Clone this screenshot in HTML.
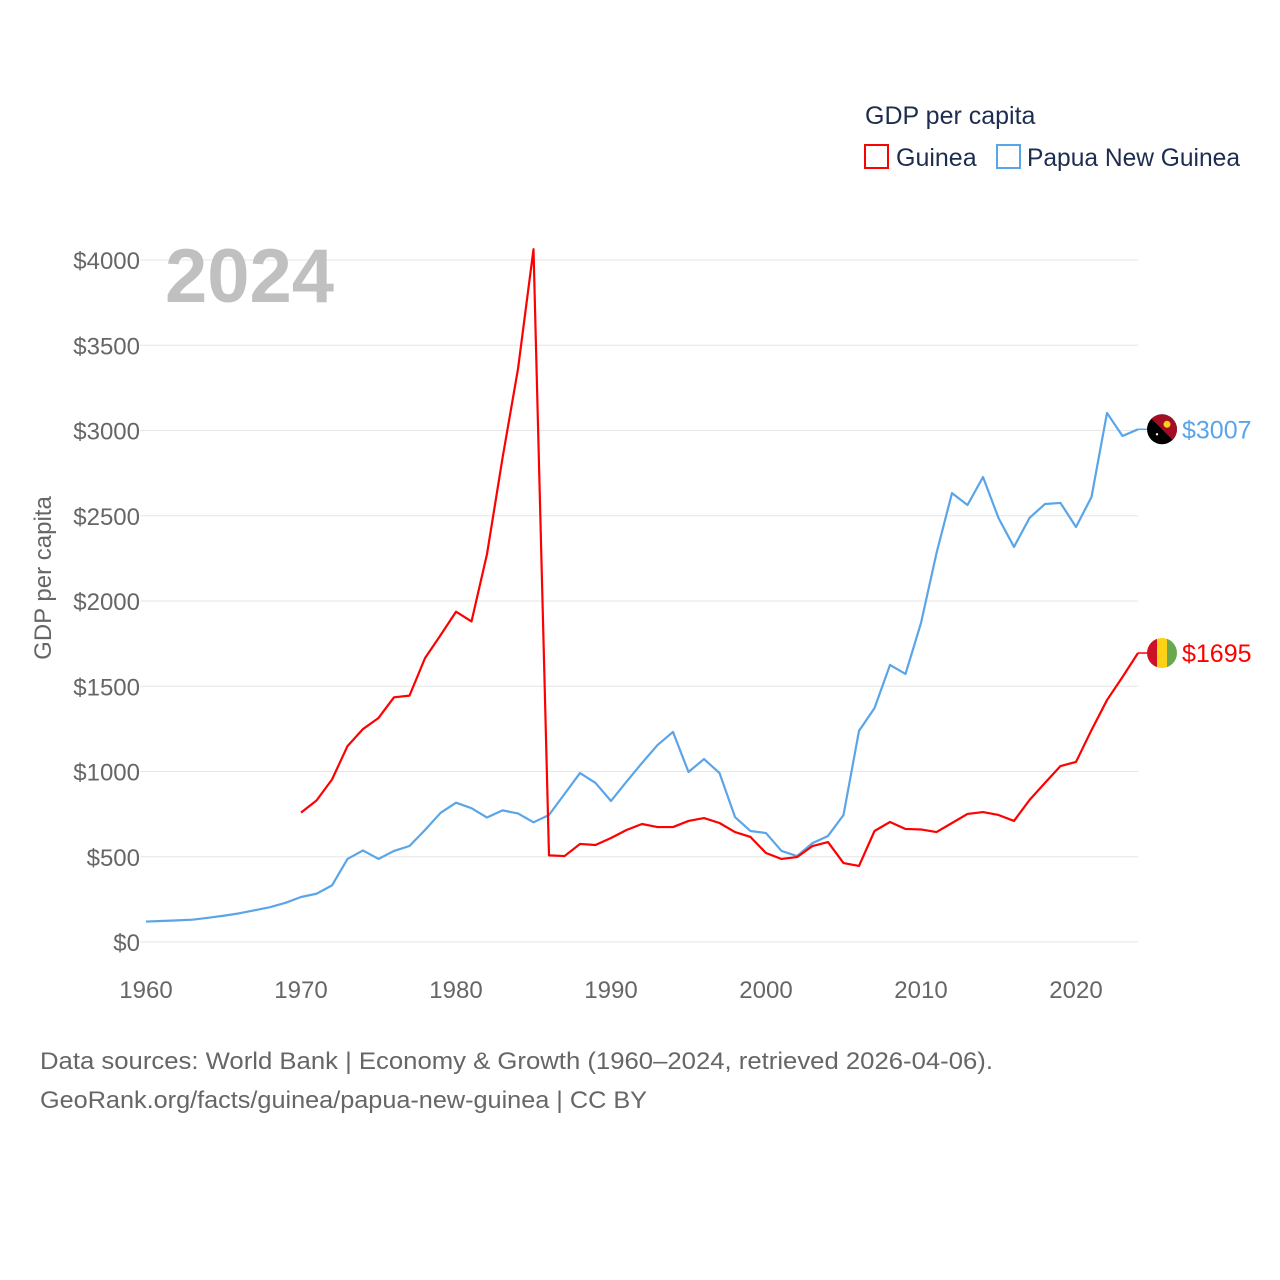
<!DOCTYPE html>
<html><head><meta charset="utf-8"><style>
html,body{margin:0;padding:0;background:#fff;}
svg{display:block;font-family:"Liberation Sans",sans-serif;}
</style></head><body>
<svg id="chart" width="1280" height="1280" viewBox="0 0 1280 1280">
<text x="865" y="124" font-size="25" fill="#1d2d50">GDP per capita</text>
<g>
<rect x="865" y="145" width="23" height="23" fill="none" stroke="#ff0000" stroke-width="2"/>
<text x="896" y="166" font-size="25" fill="#1d2d50">Guinea</text></g>
<g>
<rect x="997" y="145" width="23" height="23" fill="none" stroke="#5aa5e8" stroke-width="2"/>
<text x="1027" y="166" font-size="25" fill="#1d2d50" textLength="213" lengthAdjust="spacingAndGlyphs">Papua New Guinea</text></g>
<g id="grid"></g>
<g id="yticks"></g>
<g id="xticks"></g>
<text x="165" y="302" font-size="76" font-weight="bold" fill="#c0c0c0">2024</text>
<text transform="translate(51,578) rotate(-90)" text-anchor="middle" font-size="24" fill="#666">GDP per capita</text>
<g id="series"></g>
<text x="40" y="1069" font-size="24" fill="#666" textLength="953" lengthAdjust="spacingAndGlyphs">Data sources: World Bank | Economy &amp; Growth (1960–2024, retrieved 2026-04-06).</text>
<text x="40" y="1108" font-size="24" fill="#666" textLength="607" lengthAdjust="spacingAndGlyphs">GeoRank.org/facts/guinea/papua-new-guinea | CC BY</text>
</svg>
<script>
const years=[];for(let y=1960;y<=2024;y++)years.push(y);
const yTicks=[0,500,1000,1500,2000,2500,3000,3500,4000];
const xTicks=[1960,1970,1980,1990,2000,2010,2020];
const pngValues=[120,123,127,131,142,154,168,186,204,230,264,283,332,487,537,487,534,563,657,757,817,785,730,772,754,702,745,868,991,933,827,940,1050,1155,1232,997,1073,991,733,651,639,534,504,580,622,745,1238,1372,1625,1572,1871,2281,2633,2563,2727,2487,2317,2487,2569,2575,2434,2610,3103,2968,3007];
const guineaValues=[null,null,null,null,null,null,null,null,null,null,759,830,953,1149,1249,1314,1435,1445,1665,1799,1937,1880,2275,2838,3361,4063,508,504,575,569,610,657,692,674,674,710,727,698,645,616,522,487,498,563,586,463,446,651,704,663,660,645,698,751,762,745,710,833,933,1032,1056,1243,1419,1554,1695];
const NS='http://www.w3.org/2000/svg';
const X=y=>146+(y-1960)*15.5;
const Y=v=>942-v*0.1705;
function mk(t,a,p){const e=document.createElementNS(NS,t);for(const k in a)e.setAttribute(k,a[k]);p.appendChild(e);return e;}
const grid=document.getElementById('grid'),yt=document.getElementById('yticks'),xt=document.getElementById('xticks'),ser=document.getElementById('series');
yTicks.forEach(v=>{
 const l=mk('line',{x1:140,x2:1138,y1:Y(v),y2:Y(v),stroke:'#e6e6e6','stroke-width':1},grid);
 
 
 const t=mk('text',{x:140,y:Y(v)+9,'text-anchor':'end','font-size':24,fill:'#666'},yt);
 t.textContent='$'+v;
 
 
});
xTicks.forEach(y=>{
 const t=mk('text',{x:X(y),y:998,'text-anchor':'middle','font-size':24,fill:'#666'},xt);
 t.textContent=y;
 
 
});
function line(vals,color,name){
 let d='';let pen=false;
 vals.forEach((v,i)=>{if(v==null){pen=false;return;}d+=(pen?'L':'M')+X(years[i])+' '+Y(v)+' ';pen=true;});
 const p=mk('path',{d:d,fill:'none',stroke:color,'stroke-width':2.2,'stroke-linejoin':'round'},ser);
 
 
 const last=vals[vals.length-1],ly=Y(last),lx=X(2024);
 const c=mk('line',{x1:lx,x2:lx+12,y1:ly,y2:ly,stroke:color,'stroke-width':1.5},ser);
 
 
 const t=mk('text',{x:lx+44,y:ly+9,'font-size':25,fill:color},ser);
 t.textContent='$'+last;
 
 
 return ly;
}
const pngY=line(pngValues,'#5aa5e8','png-line');
const gY=line(guineaValues,'#ff0000','guinea-line');
const fx=1162;
const pg=mk('g',{},ser);


const cp1=mk('clipPath',{id:'c1'},pg);mk('circle',{cx:fx,cy:pngY,r:15},cp1);
mk('circle',{cx:fx,cy:pngY,r:15,fill:'#000'},pg);
mk('polygon',{points:`${fx-15},${pngY-15} ${fx+15},${pngY-15} ${fx+15},${pngY+15}`,fill:'#a50d24','clip-path':'url(#c1)'},pg);
mk('circle',{cx:fx+5,cy:pngY-5,r:3.5,fill:'#fcd116'},pg);
mk('circle',{cx:fx-5,cy:pngY+5,r:1.2,fill:'#fff'},pg);
const gg=mk('g',{},ser);


const cp=mk('clipPath',{id:'c2'},gg);mk('circle',{cx:fx,cy:gY,r:15},cp);
mk('rect',{x:fx-15,y:gY-15,width:10,height:30,fill:'#ce1126','clip-path':'url(#c2)'},gg);
mk('rect',{x:fx-5,y:gY-15,width:10,height:30,fill:'#fcd116','clip-path':'url(#c2)'},gg);
mk('rect',{x:fx+5,y:gY-15,width:10,height:30,fill:'#6aa84f','clip-path':'url(#c2)'},gg);
</script>
</body></html>
